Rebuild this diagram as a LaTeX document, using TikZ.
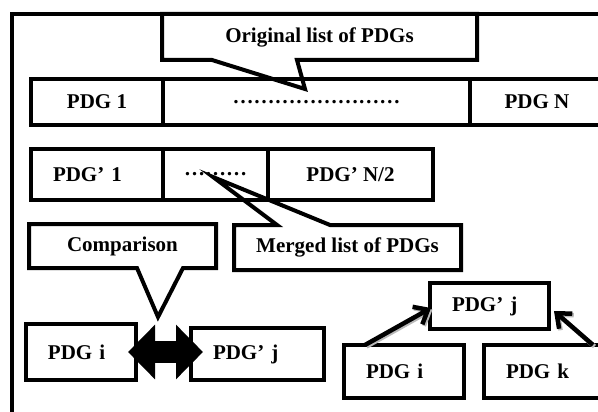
\documentclass[tikz,border=0pt]{standalone}
\usepackage{fontspec}
\setmainfont{Liberation Serif}
\usetikzlibrary{positioning, arrows.meta, calc}

\begin{document}
\begin{tikzpicture}[
    x=1pt, y=-1pt,
    every node/.style = {font=\fontsize{21}{25}\selectfont\bfseries},
    box/.style        = {rectangle, draw, line width=4pt, outer sep=0pt, inner sep=0pt},
    lbox/.style       = {box, align=left, inner xsep=22pt, text width=#1},
    tag/.style        = {rectangle, inner sep=0pt, outer sep=0pt},
    callout/.style    = {draw, line width=4pt, line join=miter},
    link/.style       = {line width=4.5pt, -{Straight Barb[length=12pt, width=20pt]}},
    linkshadow/.style = {link, draw=gray!55, transform canvas={shift={(1.5pt,-1.5pt)}}},
    fat/.style        = {line width=22pt, {Triangle[length=27pt, width=53pt]}-{Triangle[length=27pt, width=53pt]}}
]
\useasboundingbox (0,0) rectangle (598,412);
\clip (0,0) rectangle (598,412);

% Frame (top and left edges)
\draw[line width=4pt] (12,430) -- (12,14) -- (620,14);

% Original list
\node[box, minimum width=132, minimum height=46] (pdgA) at (97,102) {PDG 1};
\node[box, minimum width=307, minimum height=46, right=0pt of pdgA] (rowDots) {……………………};
\node[box, minimum width=134, minimum height=46, right=0pt of rowDots] (pdgN) {PDG N};

\node[tag, minimum width=315, minimum height=46] (origTag) at (319.5,37) {Original list of PDGs};
\coordinate (origTip) at (305,89);
\draw[callout] (origTag.north west) -- (origTag.north east) -- (origTag.south east)
    -- ($(origTag.south west)+(135,0)$) -- (origTip)
    -- ($(origTag.south west)+(50,0)$) -- (origTag.south west) -- cycle;

% Merged list
\node[lbox=88, minimum height=51] (pdgB) at (97,174.5) {PDG' 1};
\node[box, minimum width=105, minimum height=51, right=0pt of pdgB] (mergDots) {………};
\node[box, minimum width=165, minimum height=51, right=0pt of mergDots] (pdgHalf) {PDG' N/2};

\node[tag, minimum width=227, minimum height=45] (mergTag) at (347.5,247.5) {Merged list of PDGs};
\coordinate (mergTip) at (213,177);
\draw[callout] (mergTag.north west) -- ($(mergTag.north west)+(43,0)$) -- (mergTip)
    -- ($(mergTag.north west)+(96,0)$) -- (mergTag.north east)
    -- (mergTag.south east) -- (mergTag.south west) -- cycle;

% Comparison
\node[tag, minimum width=187, minimum height=44] (compTag) at (122.5,246) {Comparison};
\coordinate (compTip) at (158,317);
\draw[callout] (compTag.north west) -- (compTag.north east) -- (compTag.south east)
    -- ($(compTag.south west)+(154,0)$) -- (compTip)
    -- ($(compTag.south west)+(108,0)$) -- (compTag.south west) -- cycle;

\node[lbox=66, minimum height=56] (pdgI) at (81,352) {PDG i};
\node[lbox=89, minimum height=52] (pdgJ) at (257.5,354) {PDG' j};
\draw[fat, shorten <=-8pt, shorten >=-12pt] (pdgI.east) -- (pdgI.east -| pdgJ.west);

% Merge of two PDGs
\node[lbox=75, minimum height=46] (pdgJb) at (489.5,306) {PDG' j};
\node[lbox=76, minimum height=53] (pdgIb) at (404,371.5) {PDG i};
\node[lbox=97, minimum height=53] (pdgK) at (554.5,371.5) {PDG k};

\draw[linkshadow] ($(pdgIb.north west)+(21,0)$) -- ($(pdgJb.west)+(1,2)$);
\draw[linkshadow] ($(pdgK.north west)+(109,0)$) -- ($(pdgJb.east)+(5,5)$);
\draw[link] ($(pdgIb.north west)+(21,0)$) -- ($(pdgJb.west)+(1,2)$);
\draw[link] ($(pdgK.north west)+(109,0)$) -- ($(pdgJb.east)+(5,5)$);

\end{tikzpicture}
\end{document}
